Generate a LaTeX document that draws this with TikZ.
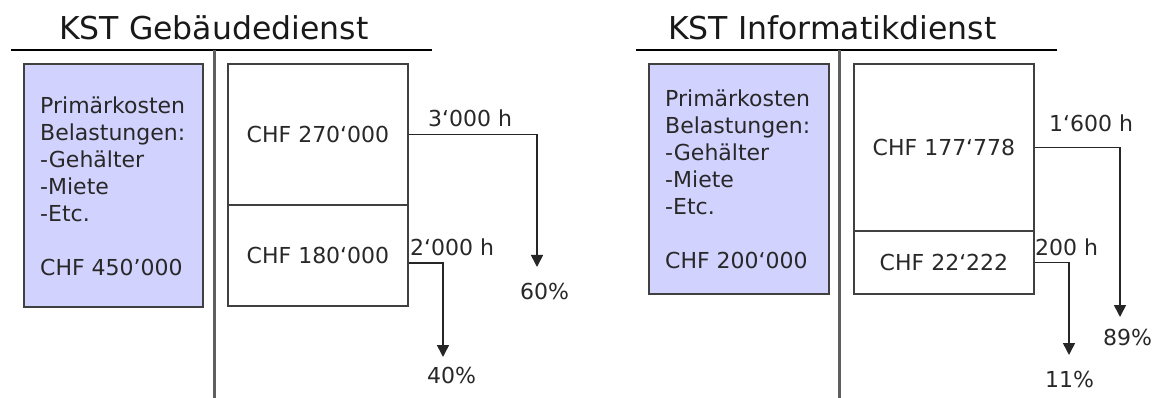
\documentclass[tikz,border=0pt]{standalone}
\usepackage{fontspec}
\setmainfont{DejaVu Sans}
\usetikzlibrary{arrows.meta}
\definecolor{boxblue}{RGB}{210,210,255}
\definecolor{framegray}{RGB}{64,64,64}
\definecolor{dividergray}{RGB}{95,95,95}
\definecolor{inkgray}{RGB}{40,40,40}
\begin{document}
\begin{tikzpicture}[x=1pt,y=-1pt,
  body/.style={font=\fontsize{22}{27}\selectfont, inner sep=0pt, text=inkgray},
  titletext/.style={font=\fontsize{31.5}{36}\selectfont, inner sep=0pt, anchor=base west, text=black!90},
  rulerline/.style={line width=2pt, black},
  sepline/.style={line width=3pt, dividergray},
  primbox/.style={draw=framegray, line width=2pt, fill=boxblue, inner sep=0pt, anchor=north west},
  primtext/.style={body, align=left, anchor=north west},
  costbox/.style={draw=framegray, line width=2pt, fill=white, minimum width=180pt, inner sep=0pt, anchor=north west, body},
  flow/.style={line width=1.6pt, black!85, -{Triangle[width=12pt,length=12pt]}},
  lbl/.style={body, anchor=base west},
]
\useasboundingbox (0,0) rectangle (1157,398);

% ---------- left panel ----------
\node[titletext] (t1) at (59,40) {KST Gebäudedienst};
\coordinate (h1a) at (11,50);
\coordinate (h1b) at (432,50);
\draw[rulerline] (h1a) -- (h1b);
\coordinate (v1a) at (214,50);
\coordinate (v1b) at (214,398);
\draw[sepline] (v1a) -- (v1b);

\node[primbox, minimum width=179pt, minimum height=243pt] (p1) at (23,63) {};
\node[primtext] (p1t) at (40,97) {Primärkosten\\Belastungen:\\-Gehälter\\-Miete\\-Etc.\\[27pt]CHF 450’000};

\node[costbox, minimum height=141pt] (a1) at (227,63) {CHF 270‘000};
\node[costbox, minimum height=101pt] (b1) at (227,204) {CHF 180‘000};

\coordinate (e1) at (537,267);
\draw[flow] (a1.east) -| (e1);
\node[lbl] (l1) at (428,127) {3‘000 h};
\node[lbl] (q1) at (520,299) {60\%};

\coordinate (s2) at ([yshift=-7.5pt]b1.east);
\coordinate (e2) at (443,357);
\draw[flow] (s2) -| (e2);
\node[lbl] (l2) at (410,255) {2‘000 h};
\node[lbl] (q2) at (427,383) {40\%};

% ---------- right panel ----------
\node[titletext] (t2) at (668,40) {KST Informatikdienst};
\coordinate (h2a) at (636,50);
\coordinate (h2b) at (1057,50);
\draw[rulerline] (h2a) -- (h2b);
\coordinate (v2a) at (839,50);
\coordinate (v2b) at (839,398);
\draw[sepline] (v2a) -- (v2b);

\node[primbox, minimum width=180pt, minimum height=230pt] (p2) at (648,63) {};
\node[primtext] (p2t) at (665,90) {Primärkosten\\Belastungen:\\-Gehälter\\-Miete\\-Etc.\\[27pt]CHF 200‘000};

\node[costbox, minimum height=167pt] (a2) at (853,63) {CHF 177‘778};
\node[costbox, minimum height=63pt] (b2) at (853,230) {CHF 22‘222};

\coordinate (e3) at (1120,317);
\draw[flow] (a2.east) -| (e3);
\node[lbl] (l3) at (1049,132) {1‘600 h};
\node[lbl] (q3) at (1103,345) {89\%};

\coordinate (e4) at (1069,355);
\draw[flow] (b2.east) -| (e4);
\node[lbl] (l4) at (1035,255) {200 h};
\node[lbl] (q4) at (1045,387) {11\%};
\end{tikzpicture}
\end{document}
